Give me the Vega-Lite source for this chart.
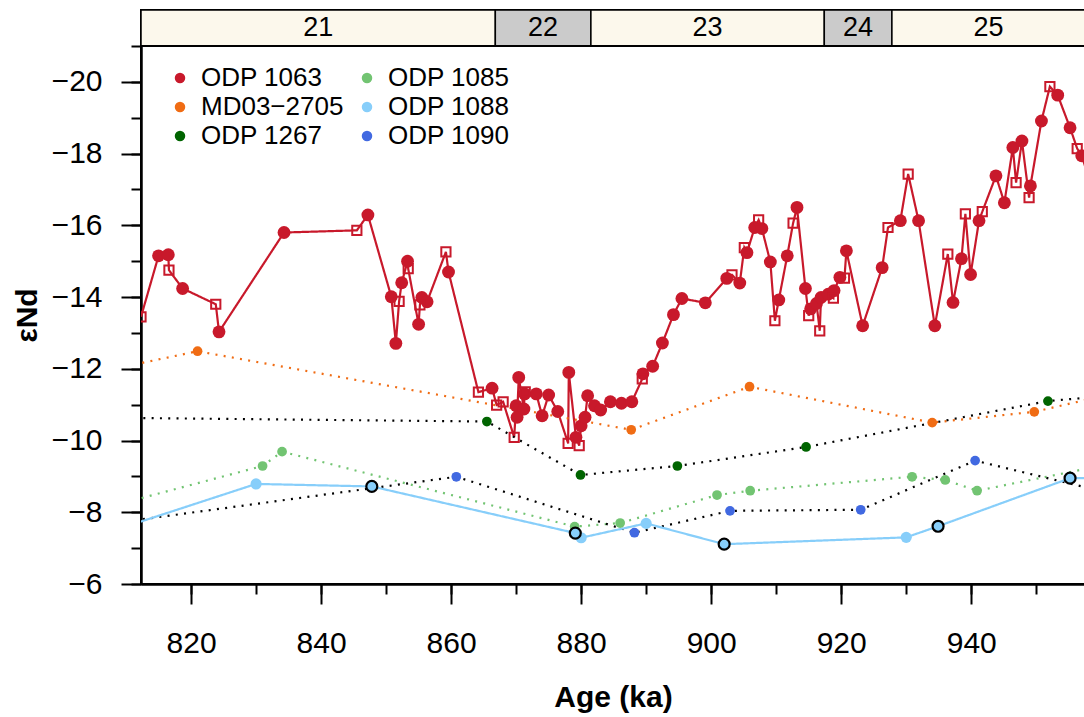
{
  "$schema": "https://vega.github.io/schema/vega-lite/v6.json",
  "autosize": {"type": "pad"},
  "padding": {"left": 11, "top": 9, "right": 0, "bottom": 0},
  "background": "white",
  "spacing": 0,
  "bounds": "flush",
  "config": {
    "font": "Liberation Sans",
    "view": {"stroke": "black", "strokeWidth": 2},
    "axis": {"grid": false, "domainColor": "black", "tickColor": "black", "labelColor": "black", "titleColor": "black", "labelFont": "Liberation Sans", "titleFont": "Liberation Sans"}
  },
  "datasets": {
    "stages": [
      {"stage": "21", "start": 812.3, "end": 866.8, "parity": "odd"},
      {"stage": "22", "start": 866.8, "end": 881.5, "parity": "even"},
      {"stage": "23", "start": 881.5, "end": 917.4, "parity": "odd"},
      {"stage": "24", "start": 917.4, "end": 927.8, "parity": "even"},
      {"stage": "25", "start": 927.8, "end": 957.5, "parity": "odd"}
    ],
    "nd": [
      {"series": "ODP 1063", "age": 812.3, "eps": -13.45, "marker": "square"},
      {"series": "ODP 1063", "age": 815.0, "eps": -15.15, "marker": "circle"},
      {"series": "ODP 1063", "age": 816.5, "eps": -15.18, "marker": "circle"},
      {"series": "ODP 1063", "age": 816.6, "eps": -14.75, "marker": "square"},
      {"series": "ODP 1063", "age": 818.7, "eps": -14.24, "marker": "circle"},
      {"series": "ODP 1063", "age": 823.8, "eps": -13.80, "marker": "square"},
      {"series": "ODP 1063", "age": 824.3, "eps": -13.03, "marker": "circle"},
      {"series": "ODP 1063", "age": 834.3, "eps": -15.80, "marker": "circle"},
      {"series": "ODP 1063", "age": 845.5, "eps": -15.86, "marker": "square"},
      {"series": "ODP 1063", "age": 847.2, "eps": -16.29, "marker": "circle"},
      {"series": "ODP 1063", "age": 850.8, "eps": -14.01, "marker": "circle"},
      {"series": "ODP 1063", "age": 851.5, "eps": -12.71, "marker": "circle"},
      {"series": "ODP 1063", "age": 852.0, "eps": -13.88, "marker": "square"},
      {"series": "ODP 1063", "age": 852.4, "eps": -14.40, "marker": "circle"},
      {"series": "ODP 1063", "age": 853.3, "eps": -15.00, "marker": "circle"},
      {"series": "ODP 1063", "age": 853.4, "eps": -14.79, "marker": "square"},
      {"series": "ODP 1063", "age": 855.0, "eps": -13.24, "marker": "circle"},
      {"series": "ODP 1063", "age": 855.2, "eps": -13.78, "marker": "square"},
      {"series": "ODP 1063", "age": 855.5, "eps": -13.99, "marker": "circle"},
      {"series": "ODP 1063", "age": 856.3, "eps": -13.87, "marker": "circle"},
      {"series": "ODP 1063", "age": 859.2, "eps": -15.26, "marker": "square"},
      {"series": "ODP 1063", "age": 859.6, "eps": -14.70, "marker": "circle"},
      {"series": "ODP 1063", "age": 864.2, "eps": -11.35, "marker": "square"},
      {"series": "ODP 1063", "age": 866.3, "eps": -11.46, "marker": "circle"},
      {"series": "ODP 1063", "age": 867.0, "eps": -10.99, "marker": "square"},
      {"series": "ODP 1063", "age": 868.0, "eps": -11.08, "marker": "square"},
      {"series": "ODP 1063", "age": 869.7, "eps": -10.09, "marker": "square"},
      {"series": "ODP 1063", "age": 870.0, "eps": -10.97, "marker": "circle"},
      {"series": "ODP 1063", "age": 870.15, "eps": -10.65, "marker": "circle"},
      {"series": "ODP 1063", "age": 870.4, "eps": -11.76, "marker": "circle"},
      {"series": "ODP 1063", "age": 871.2, "eps": -10.88, "marker": "circle"},
      {"series": "ODP 1063", "age": 871.3, "eps": -11.30, "marker": "circle"},
      {"series": "ODP 1063", "age": 871.4, "eps": -11.36, "marker": "square"},
      {"series": "ODP 1063", "age": 873.1, "eps": -11.30, "marker": "circle"},
      {"series": "ODP 1063", "age": 874.0, "eps": -10.69, "marker": "circle"},
      {"series": "ODP 1063", "age": 875.0, "eps": -11.27, "marker": "circle"},
      {"series": "ODP 1063", "age": 876.4, "eps": -10.81, "marker": "circle"},
      {"series": "ODP 1063", "age": 878.0, "eps": -9.92, "marker": "square"},
      {"series": "ODP 1063", "age": 878.1, "eps": -11.90, "marker": "circle"},
      {"series": "ODP 1063", "age": 879.2, "eps": -10.09, "marker": "circle"},
      {"series": "ODP 1063", "age": 879.7, "eps": -9.86, "marker": "square"},
      {"series": "ODP 1063", "age": 880.0, "eps": -10.41, "marker": "circle"},
      {"series": "ODP 1063", "age": 880.6, "eps": -10.65, "marker": "circle"},
      {"series": "ODP 1063", "age": 881.0, "eps": -11.25, "marker": "circle"},
      {"series": "ODP 1063", "age": 882.05, "eps": -10.97, "marker": "circle"},
      {"series": "ODP 1063", "age": 883.0, "eps": -10.85, "marker": "circle"},
      {"series": "ODP 1063", "age": 884.5, "eps": -11.08, "marker": "circle"},
      {"series": "ODP 1063", "age": 886.2, "eps": -11.04, "marker": "circle"},
      {"series": "ODP 1063", "age": 887.8, "eps": -11.08, "marker": "circle"},
      {"series": "ODP 1063", "age": 889.4, "eps": -11.72, "marker": "square"},
      {"series": "ODP 1063", "age": 889.5, "eps": -11.86, "marker": "circle"},
      {"series": "ODP 1063", "age": 891.0, "eps": -12.07, "marker": "circle"},
      {"series": "ODP 1063", "age": 892.5, "eps": -12.72, "marker": "circle"},
      {"series": "ODP 1063", "age": 894.2, "eps": -13.51, "marker": "circle"},
      {"series": "ODP 1063", "age": 895.5, "eps": -13.96, "marker": "circle"},
      {"series": "ODP 1063", "age": 899.1, "eps": -13.84, "marker": "circle"},
      {"series": "ODP 1063", "age": 902.4, "eps": -14.52, "marker": "circle"},
      {"series": "ODP 1063", "age": 903.2, "eps": -14.62, "marker": "square"},
      {"series": "ODP 1063", "age": 904.4, "eps": -14.39, "marker": "circle"},
      {"series": "ODP 1063", "age": 905.1, "eps": -15.38, "marker": "square"},
      {"series": "ODP 1063", "age": 905.5, "eps": -15.24, "marker": "circle"},
      {"series": "ODP 1063", "age": 906.7, "eps": -15.94, "marker": "circle"},
      {"series": "ODP 1063", "age": 907.3, "eps": -16.15, "marker": "square"},
      {"series": "ODP 1063", "age": 907.8, "eps": -15.91, "marker": "circle"},
      {"series": "ODP 1063", "age": 909.1, "eps": -14.98, "marker": "circle"},
      {"series": "ODP 1063", "age": 909.8, "eps": -13.34, "marker": "square"},
      {"series": "ODP 1063", "age": 910.4, "eps": -13.92, "marker": "circle"},
      {"series": "ODP 1063", "age": 911.7, "eps": -15.15, "marker": "circle"},
      {"series": "ODP 1063", "age": 912.6, "eps": -16.06, "marker": "square"},
      {"series": "ODP 1063", "age": 913.2, "eps": -16.50, "marker": "circle"},
      {"series": "ODP 1063", "age": 914.5, "eps": -14.24, "marker": "circle"},
      {"series": "ODP 1063", "age": 915.0, "eps": -13.48, "marker": "square"},
      {"series": "ODP 1063", "age": 915.3, "eps": -13.67, "marker": "circle"},
      {"series": "ODP 1063", "age": 916.2, "eps": -13.82, "marker": "circle"},
      {"series": "ODP 1063", "age": 916.7, "eps": -13.06, "marker": "square"},
      {"series": "ODP 1063", "age": 916.9, "eps": -13.99, "marker": "circle"},
      {"series": "ODP 1063", "age": 918.0, "eps": -14.08, "marker": "circle"},
      {"series": "ODP 1063", "age": 918.8, "eps": -13.97, "marker": "square"},
      {"series": "ODP 1063", "age": 918.9, "eps": -14.18, "marker": "circle"},
      {"series": "ODP 1063", "age": 919.8, "eps": -14.55, "marker": "circle"},
      {"series": "ODP 1063", "age": 920.5, "eps": -14.53, "marker": "square"},
      {"series": "ODP 1063", "age": 920.8, "eps": -15.29, "marker": "circle"},
      {"series": "ODP 1063", "age": 923.3, "eps": -13.20, "marker": "circle"},
      {"series": "ODP 1063", "age": 926.3, "eps": -14.82, "marker": "circle"},
      {"series": "ODP 1063", "age": 927.2, "eps": -15.94, "marker": "square"},
      {"series": "ODP 1063", "age": 929.1, "eps": -16.13, "marker": "circle"},
      {"series": "ODP 1063", "age": 930.3, "eps": -17.43, "marker": "square"},
      {"series": "ODP 1063", "age": 931.9, "eps": -16.13, "marker": "circle"},
      {"series": "ODP 1063", "age": 934.4, "eps": -13.20, "marker": "circle"},
      {"series": "ODP 1063", "age": 936.4, "eps": -15.20, "marker": "square"},
      {"series": "ODP 1063", "age": 937.2, "eps": -13.85, "marker": "circle"},
      {"series": "ODP 1063", "age": 938.5, "eps": -15.07, "marker": "circle"},
      {"series": "ODP 1063", "age": 939.1, "eps": -16.32, "marker": "square"},
      {"series": "ODP 1063", "age": 939.9, "eps": -14.63, "marker": "circle"},
      {"series": "ODP 1063", "age": 941.2, "eps": -16.13, "marker": "circle"},
      {"series": "ODP 1063", "age": 941.7, "eps": -16.38, "marker": "square"},
      {"series": "ODP 1063", "age": 943.8, "eps": -17.38, "marker": "circle"},
      {"series": "ODP 1063", "age": 945.1, "eps": -16.63, "marker": "circle"},
      {"series": "ODP 1063", "age": 946.4, "eps": -18.17, "marker": "circle"},
      {"series": "ODP 1063", "age": 946.9, "eps": -17.19, "marker": "square"},
      {"series": "ODP 1063", "age": 947.8, "eps": -18.35, "marker": "circle"},
      {"series": "ODP 1063", "age": 948.9, "eps": -16.77, "marker": "square"},
      {"series": "ODP 1063", "age": 949.1, "eps": -17.10, "marker": "circle"},
      {"series": "ODP 1063", "age": 950.8, "eps": -18.91, "marker": "circle"},
      {"series": "ODP 1063", "age": 952.1, "eps": -19.87, "marker": "square"},
      {"series": "ODP 1063", "age": 953.3, "eps": -19.63, "marker": "circle"},
      {"series": "ODP 1063", "age": 955.2, "eps": -18.72, "marker": "circle"},
      {"series": "ODP 1063", "age": 956.3, "eps": -18.14, "marker": "square"},
      {"series": "ODP 1063", "age": 957.0, "eps": -17.94, "marker": "circle"},
      {"series": "ODP 1063", "age": 959.0, "eps": -16.80, "marker": "circle"},
      {"series": "MD03−2705", "age": 805.0, "eps": -11.88, "marker": "circle"},
      {"series": "MD03−2705", "age": 821.0, "eps": -12.49, "marker": "circle"},
      {"series": "MD03−2705", "age": 887.7, "eps": -10.30, "marker": "circle"},
      {"series": "MD03−2705", "age": 905.9, "eps": -11.50, "marker": "circle"},
      {"series": "MD03−2705", "age": 934.0, "eps": -10.50, "marker": "circle"},
      {"series": "MD03−2705", "age": 949.7, "eps": -10.80, "marker": "circle"},
      {"series": "MD03−2705", "age": 965.0, "eps": -11.44, "marker": "circle"},
      {"series": "ODP 1267", "age": 805.0, "eps": -10.64, "marker": "circle"},
      {"series": "ODP 1267", "age": 865.5, "eps": -10.53, "marker": "circle"},
      {"series": "ODP 1267", "age": 879.9, "eps": -9.04, "marker": "circle"},
      {"series": "ODP 1267", "age": 894.8, "eps": -9.29, "marker": "circle"},
      {"series": "ODP 1267", "age": 914.6, "eps": -9.82, "marker": "circle"},
      {"series": "ODP 1267", "age": 951.8, "eps": -11.10, "marker": "circle"},
      {"series": "ODP 1267", "age": 965.0, "eps": -11.31, "marker": "circle"},
      {"series": "ODP 1085", "age": 805.0, "eps": -8.04, "marker": "circle"},
      {"series": "ODP 1085", "age": 831.0, "eps": -9.29, "marker": "circle"},
      {"series": "ODP 1085", "age": 834.0, "eps": -9.69, "marker": "circle"},
      {"series": "ODP 1085", "age": 879.0, "eps": -7.60, "marker": "circle"},
      {"series": "ODP 1085", "age": 886.0, "eps": -7.70, "marker": "circle"},
      {"series": "ODP 1085", "age": 900.9, "eps": -8.48, "marker": "circle"},
      {"series": "ODP 1085", "age": 906.0, "eps": -8.60, "marker": "circle"},
      {"series": "ODP 1085", "age": 930.9, "eps": -8.99, "marker": "circle"},
      {"series": "ODP 1085", "age": 936.0, "eps": -8.90, "marker": "circle"},
      {"series": "ODP 1085", "age": 940.9, "eps": -8.60, "marker": "circle"},
      {"series": "ODP 1085", "age": 965.0, "eps": -9.48, "marker": "circle"},
      {"series": "ODP 1090", "age": 805.0, "eps": -7.62, "marker": "circle"},
      {"series": "ODP 1090", "age": 860.8, "eps": -8.99, "marker": "circle"},
      {"series": "ODP 1090", "age": 888.2, "eps": -7.43, "marker": "circle"},
      {"series": "ODP 1090", "age": 902.9, "eps": -8.04, "marker": "circle"},
      {"series": "ODP 1090", "age": 923.0, "eps": -8.07, "marker": "circle"},
      {"series": "ODP 1090", "age": 940.6, "eps": -9.44, "marker": "circle"},
      {"series": "ODP 1090", "age": 965.0, "eps": -8.37, "marker": "circle"},
      {"series": "ODP 1088", "age": 805.0, "eps": -7.31, "marker": "circle"},
      {"series": "ODP 1088", "age": 830.0, "eps": -8.79, "marker": "circle"},
      {"series": "ODP 1088", "age": 847.8, "eps": -8.72, "marker": "ring"},
      {"series": "ODP 1088", "age": 879.1, "eps": -7.42, "marker": "ring"},
      {"series": "ODP 1088", "age": 880.0, "eps": -7.29, "marker": "circle"},
      {"series": "ODP 1088", "age": 890.0, "eps": -7.69, "marker": "circle"},
      {"series": "ODP 1088", "age": 902.0, "eps": -7.11, "marker": "ring"},
      {"series": "ODP 1088", "age": 930.0, "eps": -7.30, "marker": "circle"},
      {"series": "ODP 1088", "age": 934.9, "eps": -7.61, "marker": "ring"},
      {"series": "ODP 1088", "age": 955.2, "eps": -8.95, "marker": "ring"},
      {"series": "ODP 1088", "age": 965.0, "eps": -8.95, "marker": "circle"}
    ]
  },
  "vconcat": [
    {
      "width": 944,
      "height": 36,
      "data": {"name": "stages"},
      "layer": [
        {
          "mark": {"type": "rect", "stroke": "black", "strokeWidth": 1.5, "clip": true},
          "encoding": {
            "x": {"field": "start", "type": "quantitative", "scale": {"domain": [812.3, 957.5], "nice": false, "zero": false}, "axis": null},
            "x2": {"field": "end"},
            "fill": {"field": "parity", "type": "nominal", "scale": {"domain": ["odd", "even"], "range": ["#FCF8EC", "#CBCBCB"]}, "legend": null}
          }
        },
        {
          "transform": [{"calculate": "(datum.start + datum.end) / 2", "as": "mid"}],
          "mark": {"type": "text", "fontSize": 27, "font": "Liberation Sans", "color": "black"},
          "encoding": {
            "x": {"field": "mid", "type": "quantitative", "scale": {"domain": [812.3, 957.5], "nice": false, "zero": false}, "axis": null},
            "text": {"field": "stage", "type": "nominal"}
          }
        }
      ]
    },
    {
      "width": 944,
      "height": 538,
      "data": {"name": "nd"},
      "resolve": {"scale": {"color": "independent"}, "axis": {"x": "independent", "y": "independent"}},
      "layer": [
        {
          "mark": {"type": "line", "strokeWidth": 2.2, "clip": true},
          "encoding": {
            "x": {"field": "age", "type": "quantitative", "scale": {"domain": [812.3, 957.5], "nice": false, "zero": false},
                  "axis": {"orient": "bottom", "values": [820, 830, 840, 850, 860, 870, 880, 890, 900, 910, 920, 930, 940, 950], "tickSize": 10, "tickWidth": 2, "labels": false, "domain": false, "title": null}},
            "y": {"field": "eps", "type": "quantitative", "scale": {"domain": [-21, -6], "reverse": true, "nice": false, "zero": false},
                  "axis": {"orient": "left", "values": [-21, -20, -19, -18, -17, -16, -15, -14, -13, -12, -11, -10, -9, -8, -7, -6], "tickSize": 10, "tickWidth": 2, "labels": false, "domain": false, "title": null}},
            "color": {"field": "series", "type": "nominal", "legend": null,
                      "scale": {"domain": ["ODP 1063", "MD03−2705", "ODP 1267", "ODP 1085", "ODP 1088", "ODP 1090"],
                                "range": ["#C8192B", "#F06C14", "#000000", "#72C472", "#87CEFA", "#000000"]}},
            "strokeDash": {"field": "series", "type": "nominal", "legend": null,
                           "scale": {"domain": ["ODP 1063", "MD03−2705", "ODP 1267", "ODP 1085", "ODP 1088", "ODP 1090"],
                                     "range": [[1, 0], [2, 6.3], [2, 6.3], [2, 6.3], [1, 0], [2, 6.3]]}}
          }
        },
        {
          "transform": [{"filter": "datum.marker === 'circle' && datum.series !== 'ODP 1063' && datum.series !== 'ODP 1088'"}],
          "mark": {"type": "circle", "opacity": 1, "size": 95, "clip": true},
          "encoding": {
            "x": {"field": "age", "type": "quantitative", "scale": {"domain": [812.3, 957.5], "nice": false, "zero": false},
                  "axis": {"orient": "bottom", "values": [820, 840, 860, 880, 900, 920, 940], "format": "d", "tickSize": 20, "tickWidth": 2, "domainWidth": 2.5, "labelFontSize": 30, "labelPadding": 24, "labelFlush": false, "labelOverlap": false,
                           "title": "Age (ka)", "titleFontSize": 30, "titleFontWeight": "bold", "titlePadding": 24}},
            "y": {"field": "eps", "type": "quantitative", "scale": {"domain": [-21, -6], "reverse": true, "nice": false, "zero": false},
                  "axis": {"orient": "left", "values": [-20, -18, -16, -14, -12, -10, -8, -6], "tickSize": 20, "tickWidth": 2, "domainWidth": 2.5, "labelFontSize": 30, "labelPadding": 19, "labelFlush": false, "labelOverlap": false,
                           "title": "εNd", "titleFontSize": 30, "titleFontWeight": "bold", "titlePadding": 9}},
            "color": {"field": "series", "type": "nominal",
                      "scale": {"domain": ["ODP 1063", "MD03−2705", "ODP 1267", "ODP 1085", "ODP 1088", "ODP 1090"],
                                "range": ["#C8192B", "#F06C14", "#006400", "#72C472", "#87CEFA", "#4169E1"]},
                      "legend": {"orient": "none", "legendX": 26, "legendY": 19, "columns": 2, "title": null, "symbolType": "circle", "symbolSize": 110,
                                 "labelFontSize": 26, "labelFont": "Liberation Sans", "labelColor": "black", "labelOffset": 8, "columnPadding": 10, "rowPadding": 3, "symbolOpacity": 1, "symbolStrokeWidth": 0, "labelLimit": 300}}
          }
        },
        {
          "transform": [{"filter": "datum.marker === 'circle' && datum.series === 'ODP 1088'"}],
          "mark": {"type": "circle", "opacity": 1, "size": 125, "color": "#87CEFA", "clip": true},
          "encoding": {
            "x": {"field": "age", "type": "quantitative", "scale": {"domain": [812.3, 957.5], "nice": false, "zero": false}, "axis": null},
            "y": {"field": "eps", "type": "quantitative", "scale": {"domain": [-21, -6], "reverse": true, "nice": false, "zero": false}, "axis": null}
          }
        },
        {
          "transform": [{"filter": "datum.marker === 'ring'"}],
          "mark": {"type": "circle", "fill": "#87CEFA", "stroke": "black", "strokeWidth": 2.2, "size": 120, "opacity": 1, "clip": true},
          "encoding": {
            "x": {"field": "age", "type": "quantitative", "scale": {"domain": [812.3, 957.5], "nice": false, "zero": false}, "axis": null},
            "y": {"field": "eps", "type": "quantitative", "scale": {"domain": [-21, -6], "reverse": true, "nice": false, "zero": false}, "axis": null}
          }
        },
        {
          "transform": [{"filter": "datum.marker === 'circle' && datum.series === 'ODP 1063'"}],
          "mark": {"type": "circle", "opacity": 1, "size": 165, "color": "#C8192B", "clip": true},
          "encoding": {
            "x": {"field": "age", "type": "quantitative", "scale": {"domain": [812.3, 957.5], "nice": false, "zero": false}, "axis": null},
            "y": {"field": "eps", "type": "quantitative", "scale": {"domain": [-21, -6], "reverse": true, "nice": false, "zero": false}, "axis": null}
          }
        },
        {
          "transform": [{"filter": "datum.marker === 'square'"}],
          "mark": {"type": "point", "shape": "square", "filled": false, "stroke": "#C8192B", "strokeWidth": 2, "size": 85, "opacity": 1, "clip": true},
          "encoding": {
            "x": {"field": "age", "type": "quantitative", "scale": {"domain": [812.3, 957.5], "nice": false, "zero": false}, "axis": null},
            "y": {"field": "eps", "type": "quantitative", "scale": {"domain": [-21, -6], "reverse": true, "nice": false, "zero": false}, "axis": null}
          }
        }
      ]
    }
  ]
}
